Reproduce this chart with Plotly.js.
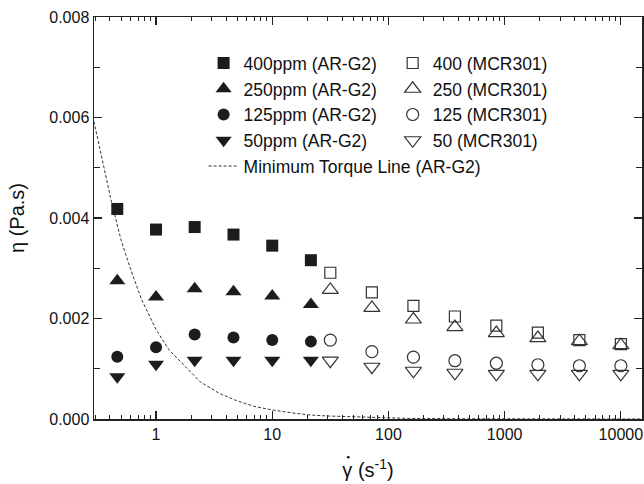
<!DOCTYPE html>
<html>
<head>
<meta charset="utf-8">
<script src="https://cdn.plot.ly/plotly-3.0.1.min.js"></script>
<style>
html,body{margin:0;padding:0;background:#fff;}
#chart{width:644px;height:484px;}
</style>
</head>
<body>
<div id="chart"></div>
<script>
// Shear rates (s^-1)
const shearAR = [0.464, 1.0, 2.15, 4.64, 10.0, 21.5];
const shearMCR = [31.6, 72, 164, 373, 848, 1931, 4394, 10000];

// Viscosity (Pa.s), AR-G2
const eta400AR = [0.00418, 0.00377, 0.00382, 0.00367, 0.00345, 0.00316];
const eta250AR = [0.00275, 0.00243, 0.00259, 0.00253, 0.00245, 0.00228];
const eta125AR = [0.00124, 0.00143, 0.00168, 0.00162, 0.00157, 0.00154];
const eta50AR  = [0.00084, 0.00109, 0.00117, 0.00117, 0.00117, 0.00117];

// Viscosity (Pa.s), MCR301
const eta400MCR = [0.00291, 0.00252, 0.00225, 0.00204, 0.00186, 0.00172, 0.00157, 0.00149];
const eta250MCR = [0.00257, 0.00221, 0.00198, 0.00183, 0.00171, 0.00161, 0.00155, 0.00147];
const eta125MCR = [0.00157, 0.00134, 0.00123, 0.00116, 0.00111, 0.00108, 0.00106, 0.00106];
const eta50MCR  = [0.00116, 0.00104, 0.00096, 0.00092, 0.00090, 0.00090, 0.00090, 0.00090];

// Minimum torque line (AR-G2)
const torqueX = [0.292, 0.35, 0.41, 0.5, 0.6, 0.75, 1.0, 1.3, 1.8, 2.4, 3.5, 5, 7, 10, 15, 21, 30, 50, 80, 150, 400, 1500, 15000];
const torqueY = [0.00592, 0.00505, 0.00436, 0.00356, 0.0030, 0.00238, 0.00178, 0.00137, 0.00104, 0.00074, 0.00051, 0.00036, 0.00025, 0.00018, 0.00012, 0.00008, 0.00006, 0.00004, 0.000025, 0.000012, 0.000005, 0.000001, 0.0];

const xTickVals = [1, 10, 100, 1000, 10000];
const xTickText = ['1', '10', '100', '1000', '10000'];

const names = {
  a400: '400ppm (AR-G2)', a250: '250ppm (AR-G2)', a125: '125ppm (AR-G2)', a50: '50ppm (AR-G2)',
  m400: '400 (MCR301)', m250: '250 (MCR301)', m125: '125 (MCR301)', m50: '50 (MCR301)',
  tq: 'Minimum Torque Line (AR-G2)'
};

const FONT = 'Liberation Sans, Arial, Helvetica, sans-serif';
const fillC = '#1c1c1c';
const openC = '#333333';

function filled(x, y, name, symbol, size) {
  return {x: x, y: y, name: name, type: 'scatter', mode: 'markers', legend: 'legend',
    marker: {symbol: symbol, size: size, color: fillC, line: {width: 0}}};
}
function open(x, y, name, symbol, size) {
  return {x: x, y: y, name: name, type: 'scatter', mode: 'markers', legend: 'legend2',
    marker: {symbol: symbol, size: size, color: openC, line: {width: 1.2, color: openC}}};
}

const traces = [
  {x: torqueX, y: torqueY, name: names.tq, type: 'scatter', mode: 'lines', legend: 'legend',
   line: {color: '#333', width: 1, dash: '3px,2px'}, legendrank: 999},
  filled(shearAR, eta400AR, names.a400, 'square', 12),
  filled(shearAR, eta250AR, names.a250, 'triangle-up', 14),
  filled(shearAR, eta125AR, names.a125, 'circle', 12),
  filled(shearAR, eta50AR, names.a50, 'triangle-down', 14),
  open(shearMCR, eta400MCR, names.m400, 'square-open', 11),
  open(shearMCR, eta250MCR, names.m250, 'triangle-up-open', 14),
  open(shearMCR, eta125MCR, names.m125, 'circle-open', 12),
  open(shearMCR, eta50MCR, names.m50, 'triangle-down-open', 14)
];
traces[1].legendrank = 1; traces[2].legendrank = 2; traces[3].legendrank = 3; traces[4].legendrank = 4;

const axisCommon = {
  showline: true, linecolor: '#222', linewidth: 1.5, mirror: 'ticks',
  ticks: 'inside', ticklen: 8, tickwidth: 1.2, tickcolor: '#222',
  showgrid: false, zeroline: false,
  tickfont: {family: FONT, size: 16, color: '#111'}
};

const layout = {
  width: 644, height: 484,
  margin: {l: 94, r: 2, t: 17, b: 65},
  paper_bgcolor: '#fff', plot_bgcolor: '#fff',
  font: {family: FONT, color: '#111'},
  showlegend: true,
  xaxis: Object.assign({}, axisCommon, {
    type: 'log', range: [Math.log10(0.2925), Math.log10(15200)],
    tickvals: xTickVals, ticktext: xTickText,
    minor: {ticks: 'inside', ticklen: 4, tickwidth: 1, tickcolor: '#222', dtick: 'D1', showgrid: false},
    title: {text: 'γ (s<sup>-1</sup>)', font: {family: FONT, size: 20, color: '#111'}, standoff: 21}
  }),
  yaxis: Object.assign({}, axisCommon, {
    range: [0, 0.008], dtick: 0.002, tick0: 0, tickformat: '.3f',
    minor: {ticks: 'inside', ticklen: 6, tickwidth: 1, tickcolor: '#222', dtick: 0.001, showgrid: false},
    title: {text: 'η (Pa.s)', font: {family: FONT, size: 20, color: '#111'}, standoff: 19}
  }),
  shapes: [
    // overdot of the gamma in the x-axis title (shear rate symbol)
    {type: 'circle', xref: 'paper', yref: 'paper',
     x0: 0.4615, x1: 0.4665, y0: -0.0985, y1: -0.0920,
     fillcolor: '#111', line: {width: 0}}
  ],
  legend: {x: 0.2, y: 0.93, xanchor: 'left', yanchor: 'top', bgcolor: 'rgba(0,0,0,0)',
    font: {family: FONT, size: 17.5, color: '#111'}, traceorder: 'normal', tracegroupgap: 0},
  legend2: {x: 0.545, y: 0.93, xanchor: 'left', yanchor: 'top', bgcolor: 'rgba(0,0,0,0)',
    font: {family: FONT, size: 17.5, color: '#111'}, traceorder: 'normal', tracegroupgap: 0}
};

Plotly.newPlot('chart', traces, layout, {displayModeBar: false, staticPlot: true});
</script>
</body>
</html>
